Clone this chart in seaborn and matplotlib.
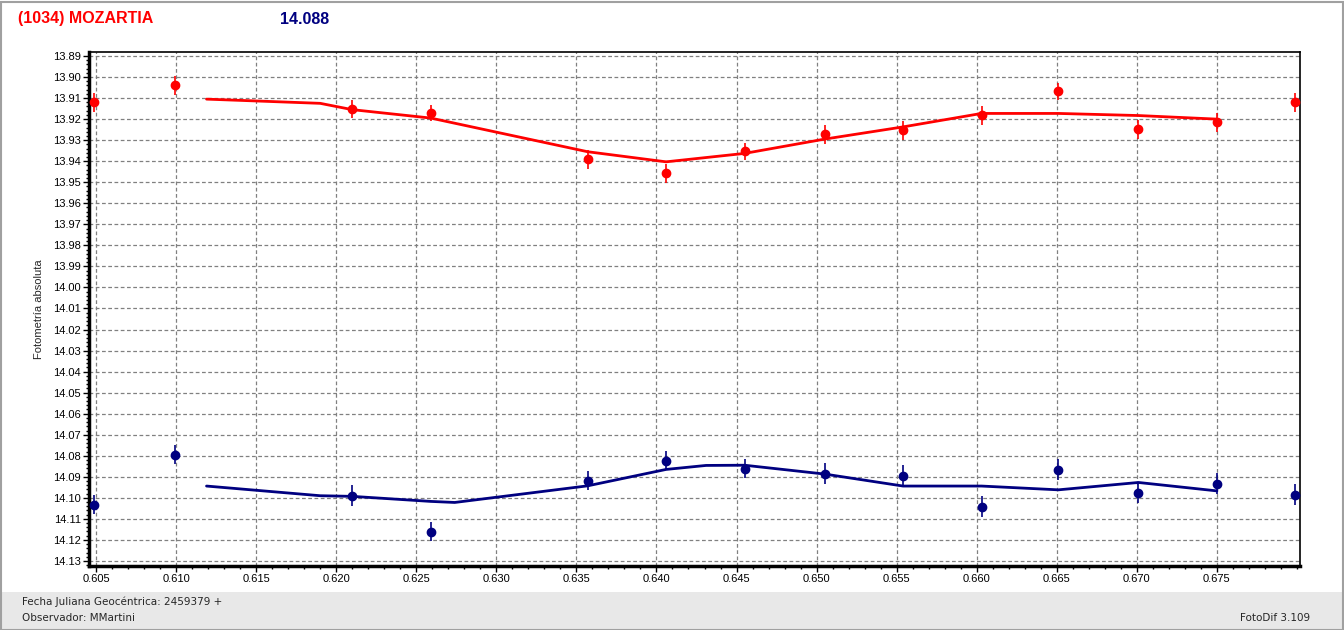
import numpy as np
import pandas as pd
import matplotlib
matplotlib.use("Agg")
import matplotlib.pyplot as plt
import seaborn as sns
from matplotlib.ticker import MultipleLocator, FixedLocator, FormatStrFormatter
from matplotlib.patches import Rectangle

# observed points (phase in JD fraction, absolute magnitude)
jd = [0.6049, 0.6099, 0.6210, 0.6259, 0.6357, 0.6406, 0.6455,
      0.6505, 0.6554, 0.6603, 0.6651, 0.6701, 0.6750, 0.6799]
mag_red = [13.9119, 13.9038, 13.9152, 13.9171, 13.9390, 13.9457, 13.9352,
           13.9271, 13.9252, 13.9181, 13.9067, 13.9248, 13.9214, 13.9119]
mag_blue = [14.1033, 14.0795, 14.0990, 14.1162, 14.0919, 14.0824, 14.0862,
            14.0886, 14.0895, 14.1043, 14.0867, 14.0976, 14.0933, 14.0986]
err_red = [0.0045, 0.0045, 0.0045, 0.0040, 0.0045, 0.0045, 0.0040,
           0.0045, 0.0045, 0.0045, 0.0040, 0.0045, 0.0045, 0.0045]
err_blue = [0.0045, 0.0045, 0.0050, 0.0045, 0.0045, 0.0045, 0.0045,
            0.0050, 0.0050, 0.0050, 0.0050, 0.0050, 0.0050, 0.0050]

# smoothed curves
fit_x_red = [0.6119, 0.6190, 0.6210, 0.6259, 0.6357, 0.6406, 0.6455,
             0.6505, 0.6554, 0.6603, 0.6651, 0.6701, 0.6750]
fit_red = [13.9105, 13.9125, 13.9155, 13.9195, 13.9355, 13.9403, 13.9363,
           13.9295, 13.9237, 13.9173, 13.9173, 13.9183, 13.9200]
fit_x_blue = [0.6119, 0.6190, 0.6210, 0.6259, 0.6274, 0.6357, 0.6406, 0.6431,
              0.6455, 0.6505, 0.6554, 0.6603, 0.6651, 0.6701, 0.6750]
fit_blue = [14.0944, 14.0990, 14.0993, 14.1017, 14.1022, 14.0943, 14.0865, 14.0846,
            14.0845, 14.0887, 14.0944, 14.0944, 14.0962, 14.0927, 14.0967]

x_ticks = [0.605, 0.610, 0.615, 0.620, 0.625, 0.630, 0.635, 0.640,
           0.645, 0.650, 0.655, 0.660, 0.665, 0.670, 0.675]

title = "(1034) MOZARTIA"
mean_mag = "14.088"
RED = "#ff0000"
BLUE = "#000080"

sns.set_style("white")
plt.rcParams["font.family"] = ["Liberation Sans", "DejaVu Sans"]

fig = plt.figure(figsize=(13.44, 6.30), dpi=100)
ax = fig.add_axes([89 / 1344, 1 - 566 / 630, 1211 / 1344, 514 / 630])

df_red = pd.DataFrame({"x": fit_x_red, "y": fit_red})
df_blue = pd.DataFrame({"x": fit_x_blue, "y": fit_blue})
sns.lineplot(data=df_red, x="x", y="y", color=RED, lw=2, ax=ax, sort=False)
sns.lineplot(data=df_blue, x="x", y="y", color=BLUE, lw=2, ax=ax, sort=False)

ax.errorbar(jd, mag_red, yerr=err_red, fmt="o", color=RED, ms=6,
            elinewidth=1.2, capsize=0, zorder=3)
ax.errorbar(jd, mag_blue, yerr=err_blue, fmt="o", color=BLUE, ms=6,
            elinewidth=1.2, capsize=0, zorder=3)

ax.set_xlim(0.60456, 0.68019)
ax.set_ylim(14.1324, 13.8881)
ax.xaxis.set_major_locator(FixedLocator(x_ticks))
ax.xaxis.set_minor_locator(MultipleLocator(0.001))
ax.yaxis.set_major_locator(MultipleLocator(0.01))
ax.yaxis.set_minor_locator(MultipleLocator(0.002))
ax.xaxis.set_major_formatter(FormatStrFormatter("%.3f"))
ax.yaxis.set_major_formatter(FormatStrFormatter("%.2f"))
ax.grid(True, which="major", color="#808080", ls=(0, (3, 2)), lw=0.9)
ax.tick_params(which="major", direction="out", length=4, width=1, labelsize=8,
               colors="black", pad=2)
ax.tick_params(which="minor", direction="out", length=2, width=1, colors="black")
ax.tick_params(axis="x", which="both", bottom=True)
ax.tick_params(axis="y", which="both", left=True)
for s in ["left", "bottom"]:
    ax.spines[s].set_linewidth(2.5)
for s in ["top", "right"]:
    ax.spines[s].set_linewidth(1.2)
for s in ax.spines.values():
    s.set_color("black")
ax.set_xlabel("")
ax.set_ylabel("Fotometría absoluta", fontsize=8, labelpad=6)

fig.text(18 / 1344, 1 - 19 / 630, title, color=RED, fontsize=11.5,
         fontweight="bold", va="center", ha="left")
fig.text(280 / 1344, 1 - 19 / 630, mean_mag, color=BLUE, fontsize=11.5,
         fontweight="bold", va="center", ha="left")

# status strip at bottom
fig.patches.append(Rectangle((0, 0), 1, 38 / 630, transform=fig.transFigure,
                             facecolor="#e8e8e8", edgecolor="none", zorder=0))
fig.text(22 / 1344, 1 - 602 / 630, "Fecha Juliana Geocéntrica: 2459379 +",
         fontsize=7.5, family="DejaVu Sans", va="center")
fig.text(22 / 1344, 1 - 618 / 630, "Observador: MMartini",
         fontsize=7.5, family="DejaVu Sans", va="center")
fig.text(1310 / 1344, 1 - 618 / 630, "FotoDif 3.109",
         fontsize=7.5, family="DejaVu Sans", va="center", ha="right")
fig.patches.append(Rectangle((0.5 / 1344, 0.5 / 630), 1342 / 1344, 628 / 630,
                             transform=fig.transFigure, facecolor="none",
                             edgecolor="#a0a0a0", lw=1.5, zorder=5))

fig.savefig("out.png", dpi=100)
